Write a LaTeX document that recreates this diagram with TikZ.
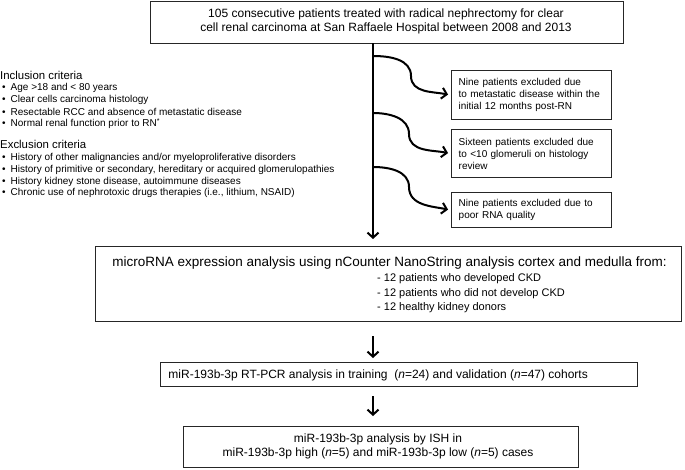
\documentclass[tikz,border=0pt]{standalone}
\usepackage{fontspec}
\setmainfont{Liberation Sans}
\usetikzlibrary{arrows.meta}
\begin{document}
\begin{tikzpicture}[x=1pt,y=1pt,
  box/.style={draw=black!85, line width=1.4pt, inner sep=0pt, anchor=north west},
  sidebox/.style={box, text width=146pt, inner xsep=7pt, align=left, font=\fontsize{10}{12.2}\selectfont},
  flow/.style={line width=2pt, -{Straight Barb[length=5pt,width=11pt,line width=2pt]}},
  crit/.style={anchor=west, inner sep=0pt, font=\fontsize{10}{11}\selectfont},
  head/.style={anchor=west, inner sep=0pt, font=\fontsize{11.4}{12}\selectfont}
]
\useasboundingbox (0,0) rectangle (685,-469);
\fill[white] (0,0) rectangle (685,-469);

% top box
\node[box, minimum width=473pt, minimum height=42pt] (top) at (150,-1) {};
\node[align=center, inner sep=0pt, font=\fontsize{12}{13.5}\selectfont] (topt) at (386,-21.5)
  {105 consecutive patients treated with radical nephrectomy for clear\\
   cell renal carcinoma at San Raffaele Hospital between 2008 and 2013};

% criteria
\node[head] (inc) at (0,-75.5) {Inclusion criteria};
\node[crit] (i1) at (2,-88) {•\hspace{5pt}Age >18 and < 80 years};
\node[crit] (i2) at (2,-99.8) {•\hspace{5pt}Clear cells carcinoma histology};
\node[crit] (i3) at (2,-111.6) {•\hspace{5pt}Resectable RCC and absence of metastatic disease};
\node[crit] (i4) at (2,-123.4) {•\hspace{5pt}Normal renal function prior to RN\raisebox{2.5pt}{\fontsize{7}{7}\selectfont *}};
\node[head] (exc) at (0,-144.5) {Exclusion criteria};
\node[crit] (e1) at (2,-158) {•\hspace{5pt}History of other malignancies and/or myeloproliferative disorders};
\node[crit] (e2) at (2,-169.8) {•\hspace{5pt}History of primitive or secondary, hereditary or acquired glomerulopathies};
\node[crit] (e3) at (2,-181.6) {•\hspace{5pt}History kidney stone disease, autoimmune diseases};
\node[crit] (e4) at (2,-193.4) {•\hspace{5pt}Chronic use of nephrotoxic drugs therapies (i.e., lithium, NSAID)};

% side boxes
\node[sidebox, minimum height=49pt] (b1) at (451,-70)
  {Nine patients excluded due\\to metastatic disease within the\\initial 12 months post-RN};
\node[sidebox, minimum height=48pt] (b2) at (451,-129)
  {Sixteen patients excluded due\\to <10 glomeruli on histology\\review};
\node[sidebox, minimum height=35pt] (b3) at (451,-192)
  {Nine patients excluded due to\\poor RNA quality};

% microRNA box
\node[box, minimum width=586pt, minimum height=75pt] (mir) at (95,-246) {};
\node[anchor=base east, inner sep=0pt, font=\fontsize{13.5}{15}\selectfont] (mirt) at (667,-266.5)
  {microRNA expression analysis using nCounter NanoString analysis cortex and medulla from:};
\node[anchor=north west, inner sep=0pt, align=left, font=\fontsize{11}{14.5}\selectfont] (mirl) at (377,-273.5)
  {- 12 patients who developed CKD\\- 12 patients who did not develop CKD\\- 12 healthy kidney donors};

% RT-PCR box
\node[box, minimum width=477pt, minimum height=24pt] (rt) at (160,-362) {};
\node[anchor=base east, inner sep=0pt, font=\fontsize{12}{13}\selectfont] (rtt) at (588,-378.5)
  {miR-193b-3p RT-PCR analysis in training\ \ (\textit{n}=24) and validation (\textit{n}=47) cohorts};

% ISH box
\node[box, minimum width=395pt, minimum height=41pt] (ish) at (183,-426) {};
\node[align=center, inner sep=0pt, font=\fontsize{12}{14.5}\selectfont] (isht) at (378,-446.5)
  {miR-193b-3p analysis by ISH in\\miR-193b-3p high (\textit{n}=5) and miR-193b-3p low (\textit{n}=5) cases};

% main vertical arrow
\coordinate (vtop) at (373,-43);
\coordinate (c1) at (373,-56);
\coordinate (c2) at (373,-113);
\coordinate (c3) at (373,-167);
\draw[flow, shorten >=7pt] (vtop) -- (mir.north -| vtop);
\draw[flow, shorten >=3pt] (c1) to[out=0,in=90] (411,-76) to[out=-90,in=168] (b1.west);
\draw[flow, shorten >=3pt] (c2) to[out=0,in=90] (409,-134) to[out=-90,in=168] (b2.west);
\draw[flow, shorten >=3pt] (c3) to[out=0,in=90] (409,-187) to[out=-90,in=168] (b3.west);

% small arrows
\draw[flow, shorten <=14pt, shorten >=4pt] (mir.south -| vtop) -- (rt.north -| vtop);
\draw[flow, shorten <=9pt, shorten >=10pt] (rt.south -| vtop) -- (ish.north -| vtop);
\end{tikzpicture}
\end{document}
